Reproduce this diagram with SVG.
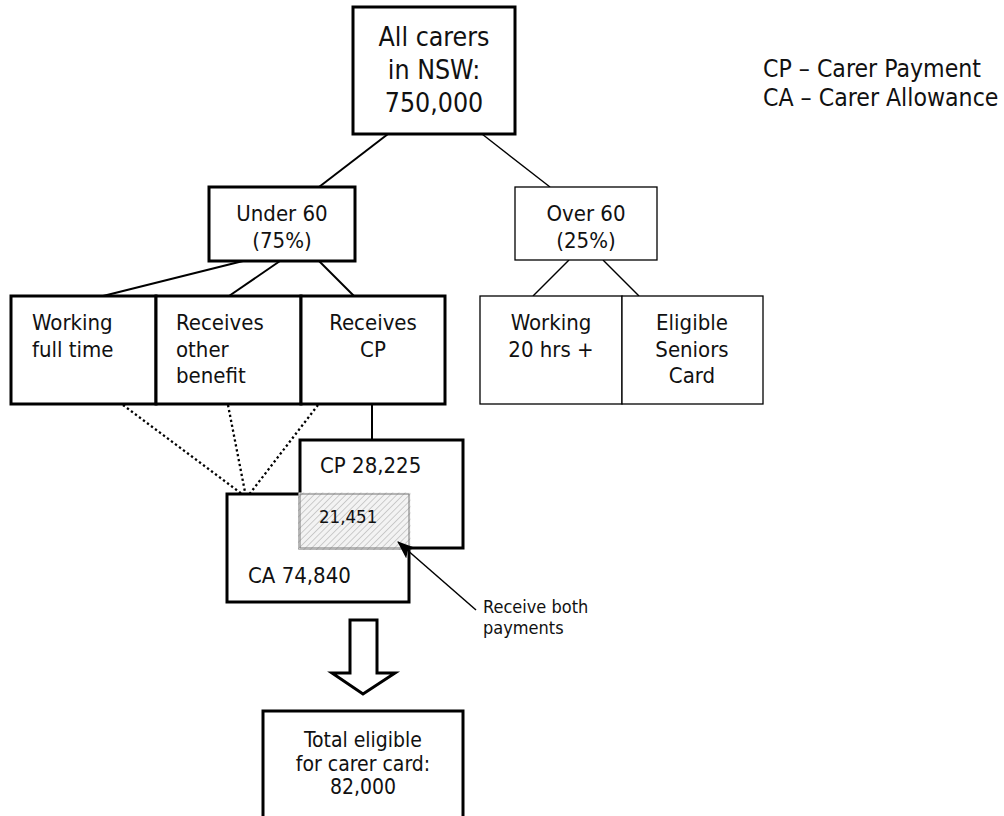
<svg xmlns="http://www.w3.org/2000/svg" width="1004" height="816" viewBox="0 0 1004 816">
<style>
text{font-family:"DejaVu Sans Condensed","DejaVu Sans",sans-serif;font-stretch:condensed;fill:#111;}
.thick{fill:#fff;stroke:#000;stroke-width:3;}
.thin{fill:#fff;stroke:#000;stroke-width:1.3;}
.c{text-anchor:middle;}
.t22{font-size:22px;}
.ln{stroke:#000;stroke-width:2;fill:none;}
.lnt{stroke:#000;stroke-width:1.4;fill:none;}
.dot{stroke:#000;stroke-width:2.3;stroke-dasharray:2.3 2.7;fill:none;}
</style>
<defs>
<pattern id="hatch" patternUnits="userSpaceOnUse" width="4.5" height="4.5" patternTransform="rotate(45)">
<rect width="4.5" height="4.5" fill="#f3f3f3"/>
<line x1="0" y1="0" x2="0" y2="4.5" stroke="#c2c2c2" stroke-width="1.6"/>
</pattern>
<marker id="ah" markerWidth="18" markerHeight="14" refX="17" refY="7" orient="auto" markerUnits="userSpaceOnUse">
<path d="M0,0 L18,7 L0,14 L4,7 Z" fill="#000"/>
</marker>
</defs>

<g id="connectors">
<line class="ln" x1="388" y1="134" x2="319" y2="187"/>
<line class="lnt" x1="482" y1="134" x2="550" y2="187"/>
<line class="ln" x1="243" y1="261" x2="103" y2="296"/>
<line class="ln" x1="280" y1="261" x2="229" y2="296"/>
<line class="ln" x1="319" y1="261" x2="354" y2="296"/>
<line class="lnt" x1="569" y1="260" x2="533" y2="296"/>
<line class="lnt" x1="603" y1="260" x2="639" y2="296"/>
<line class="ln" x1="372" y1="404" x2="372" y2="440"/>
<line class="dot" x1="123" y1="405" x2="246" y2="497"/>
<line class="dot" x1="228" y1="405" x2="246" y2="497"/>
<line class="dot" x1="318" y1="405" x2="248" y2="496"/>
</g>

<g id="all-carers">
<rect class="thick" x="353" y="7" width="162" height="127"/>
<text class="c" x="434" y="46" font-size="26.5">All carers</text>
<text class="c" x="434" y="79" font-size="26.5">in NSW:</text>
<text class="c" x="434" y="112" font-size="26.5">750,000</text>
</g>

<g id="legend">
<text x="763" y="77" font-size="24.6">CP – Carer Payment</text>
<text x="763" y="106" font-size="24.6">CA – Carer Allowance</text>
</g>

<g id="under60">
<rect class="thick" x="209" y="187" width="146" height="74"/>
<text class="c t22" x="282" y="221">Under 60</text>
<text class="c t22" x="282" y="248">(75%)</text>
</g>

<g id="over60">
<rect class="thin" x="515" y="187" width="142" height="73"/>
<text class="c t22" x="586" y="221">Over 60</text>
<text class="c t22" x="586" y="248">(25%)</text>
</g>

<g id="working-full-time">
<rect class="thick" x="11" y="296" width="145" height="108"/>
<text class="t22" x="32" y="330">Working</text>
<text class="t22" x="32" y="357">full time</text>
</g>

<g id="receives-other-benefit">
<rect class="thick" x="156" y="296" width="145" height="108"/>
<text class="t22" x="176" y="330">Receives</text>
<text class="t22" x="176" y="357">other</text>
<text class="t22" x="176" y="383">benefit</text>
</g>

<g id="receives-cp">
<rect class="thick" x="301" y="296" width="144" height="108"/>
<text class="c t22" x="373" y="330">Receives</text>
<text class="c t22" x="373" y="357">CP</text>
</g>

<g id="working-20hrs">
<rect class="thin" x="480" y="296" width="142" height="108"/>
<text class="c t22" x="551" y="330">Working</text>
<text class="c t22" x="551" y="357">20 hrs +</text>
</g>

<g id="eligible-seniors-card">
<rect class="thin" x="622" y="296" width="141" height="108"/>
<text class="c t22" x="692" y="330">Eligible</text>
<text class="c t22" x="692" y="357">Seniors</text>
<text class="c t22" x="692" y="383">Card</text>
</g>

<g id="ca-box">
<rect class="thick" x="227" y="494" width="182" height="108"/>
<text class="t22" x="248" y="583">CA 74,840</text>
</g>

<g id="cp-box">
<rect class="thick" x="300" y="440" width="163" height="108"/>
<text class="t22" x="320" y="473">CP 28,225</text>
</g>

<g id="overlap">
<rect x="298.5" y="492.5" width="112" height="57" fill="url(#hatch)"/>
<rect x="300" y="494" width="109" height="54" fill="none" stroke="#777" stroke-width="1"/>
<text x="319" y="523" font-size="18.5">21,451</text>
</g>

<g id="both-label">
<line x1="476" y1="610" x2="398" y2="542" stroke="#000" stroke-width="1.5" marker-end="url(#ah)"/>
<text x="483" y="613" font-size="18">Receive both</text>
<text x="483" y="634" font-size="18">payments</text>
</g>

<g id="block-arrow">
<polygon points="350,620 377,620 377,673 395,673 363,694 332,673 350,673" fill="#fff" stroke="#000" stroke-width="3" stroke-linejoin="miter"/>
</g>

<g id="total">
<rect class="thick" x="263" y="711" width="200" height="115"/>
<text class="c" x="363" y="747" font-size="21">Total eligible</text>
<text class="c" x="363" y="771" font-size="21">for carer card:</text>
<text class="c" x="363" y="794" font-size="21">82,000</text>
</g>
</svg>
